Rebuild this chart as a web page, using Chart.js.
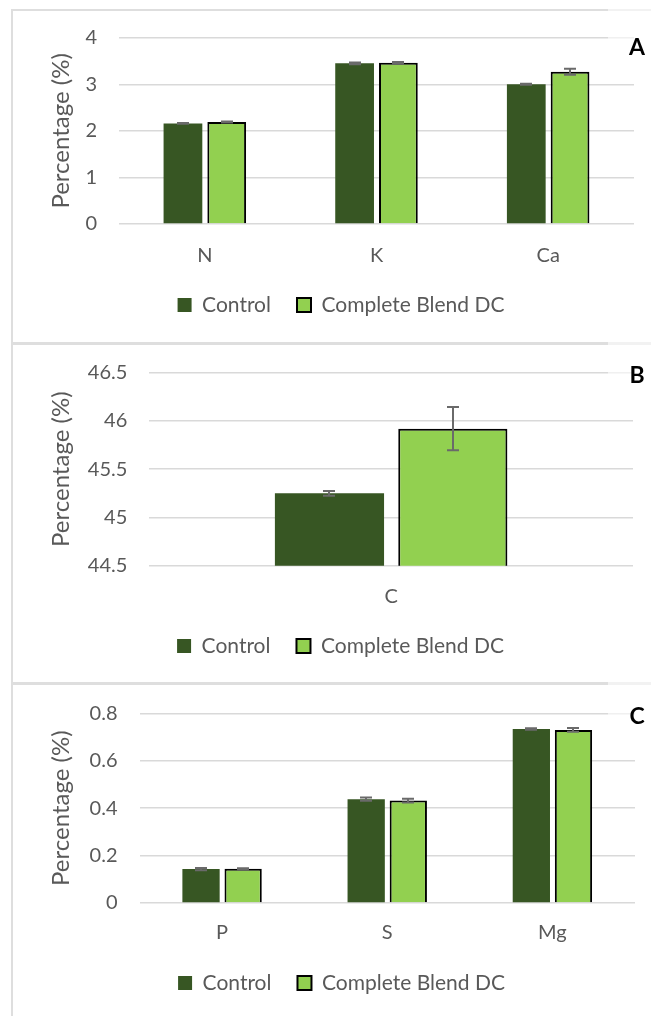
<!DOCTYPE html>
<html>
<head>
<meta charset="utf-8">
<script src="https://cdn.jsdelivr.net/npm/chart.js@4.4.1/dist/chart.umd.min.js"></script>
<style>
  html, body { margin: 0; padding: 0; background: #fff; }
  body { width: 651px; height: 1016px; overflow: hidden; position: relative; }
  .frame { position: absolute; left: 11px; width: 660px; border: 2px solid #dedede; box-sizing: border-box; }
  canvas { position: absolute; }
  .veil { position: absolute; left: 608px; width: 43px; background: rgba(255,255,255,0.6); }
  .tag { position: absolute; font: bold 23px Lato, sans-serif; color: #000; line-height: 1; transform: translate(-50%, -50%); }
</style>
</head>
<body>
<div class="frame" style="top:9px;height:336px"></div>
<div class="frame" style="top:342px;height:343px"></div>
<div class="frame" style="top:682px;height:400px"></div>

<canvas id="chartA" width="603" height="340" style="left:48px;top:3px"></canvas>
<canvas id="chartB" width="603" height="346" style="left:48px;top:337px"></canvas>
<canvas id="chartC" width="603" height="344" style="left:48px;top:677px"></canvas>

<div class="veil" style="top:8px;height:56px"></div>
<div class="veil" style="top:341px;height:54px"></div>
<div class="veil" style="top:681px;height:54px"></div>
<div class="tag" style="left:637px;top:46px">A</div>
<div class="tag" style="left:637px;top:374px">B</div>
<div class="tag" style="left:637px;top:715px">C</div>

<script>
// Series names shared by all three panels
const seriesNames = ['Control', 'Complete Blend DC'];

// Panel A: N, K, Ca
const nutrientsA = ['N', 'K', 'Ca'];
const controlA = [2.16, 3.45, 3.00];
const blendA = [2.19, 3.46, 3.27];
const controlErrA = [0.01, 0.02, 0.01];
const blendErrA = [0.01, 0.02, 0.065];
const yTicksA = [0, 1, 2, 3, 4];

// Panel B: C
const nutrientsB = ['C'];
const controlB = [45.25];
const blendB = [45.92];
const controlErrB = [0.025];
const blendErrB = [0.224];
const yTicksB = [44.5, 45, 45.5, 46, 46.5];

// Panel C: P, S, Mg
const nutrientsC = ['P', 'S', 'Mg'];
const controlC = [0.143, 0.438, 0.734];
const blendC = [0.144, 0.432, 0.730];
const controlErrC = [0.005, 0.007, 0.003];
const blendErrC = [0.003, 0.008, 0.008];
const yTicksC = [0, 0.2, 0.4, 0.6, 0.8];

const textGray = '#595959';
const controlColor = '#375623';
const blendColor = '#92D050';
const fontFamily = 'Lato, "Open Sans", sans-serif';

// Vertical error bars with caps, placed on each bar through the y scale
const errorBars = {
  id: 'errorBars',
  afterDatasetsDraw(chart, args, opts) {
    const ctx = chart.ctx;
    const y = chart.scales.y;
    ctx.save();
    ctx.strokeStyle = opts.color;
    ctx.lineWidth = opts.width;
    chart.data.datasets.forEach((ds, di) => {
      const meta = chart.getDatasetMeta(di);
      meta.data.forEach((bar, i) => {
        const v = ds.data[i];
        const e = ds.errors[i];
        const yTop = y.getPixelForValue(v + e);
        const yBot = y.getPixelForValue(v - e);
        const x = Math.round(bar.x);
        const hw = opts.capWidth / 2;
        ctx.beginPath();
        ctx.moveTo(x, yTop); ctx.lineTo(x, yBot);
        ctx.moveTo(x - hw, yTop); ctx.lineTo(x + hw, yTop);
        ctx.moveTo(x - hw, yBot); ctx.lineTo(x + hw, yBot);
        ctx.stroke();
      });
    });
    ctx.restore();
  }
};

function buildPanel(id, p) {
  const ticks = p.yTicks;
  return new Chart(document.getElementById(id), {
    type: 'bar',
    data: {
      labels: p.labels,
      datasets: [
        {
          label: seriesNames[0],
          data: p.control,
          errors: p.controlErr,
          backgroundColor: controlColor,
          borderWidth: 0,
          categoryPercentage: 0.51,
          barPercentage: 0.885
        },
        {
          label: seriesNames[1],
          data: p.blend,
          errors: p.blendErr,
          backgroundColor: blendColor,
          borderColor: '#000000',
          borderWidth: 2,
          categoryPercentage: 0.51,
          barPercentage: 0.885
        }
      ]
    },
    options: {
      responsive: false,
      animation: false,
      devicePixelRatio: 1,
      layout: { padding: p.padding },
      plugins: {
        tooltip: { enabled: false },
        errorBars: { color: '#6a6a6a', width: 2, capWidth: 12 },
        legend: {
          position: 'bottom',
          labels: {
            boxWidth: 14,
            boxHeight: 14,
            padding: 26,
            color: textGray,
            font: { family: fontFamily, size: 21 }
          }
        }
      },
      scales: {
        x: {
          offset: true,
          grid: { display: false, drawTicks: false },
          border: { display: false },
          ticks: { color: textGray, padding: p.xPad, font: { family: fontFamily, size: 20 } },
          afterFit(scale) { scale.height = p.xHeight; }
        },
        y: {
          min: ticks[0],
          max: ticks[ticks.length - 1],
          grid: { color: '#d9d9d9', lineWidth: 1.5, drawTicks: false },
          border: { display: false },
          ticks: {
            stepSize: ticks[1] - ticks[0],
            color: textGray,
            padding: 22,
            font: { family: fontFamily, size: 20 },
            callback: (v) => String(Number(v.toFixed(3)))
          },
          title: {
            display: true,
            text: 'Percentage (%)',
            color: textGray,
            padding: { top: 0, bottom: 0 },
            font: { family: fontFamily, size: 24, lineHeight: 1.1 }
          },
          afterFit(scale) { scale.width = p.yWidth; }
        }
      }
    },
    plugins: [errorBars]
  });
}

buildPanel('chartA', {
  labels: nutrientsA, control: controlA, blend: blendA,
  controlErr: controlErrA, blendErr: blendErrA, yTicks: yTicksA,
  yWidth: 71, xHeight: 44.5, xPad: 20,
  padding: { left: 0, right: 17, top: 34.7, bottom: 17.5 }
});

buildPanel('chartB', {
  labels: nutrientsB, control: controlB, blend: blendB,
  controlErr: controlErrB, blendErr: blendErrB, yTicks: yTicksB,
  yWidth: 101.3, xHeight: 43.8, xPad: 18.5,
  padding: { left: 0, right: 18, top: 35.7, bottom: 16.5 }
});

buildPanel('chartC', {
  labels: nutrientsC, control: controlC, blend: blendC,
  controlErr: controlErrC, blendErr: blendErrC, yTicks: yTicksC,
  yWidth: 91.5, xHeight: 43.5, xPad: 18,
  padding: { left: 0, right: 16, top: 36.3, bottom: 17.5 }
});
</script>
</body>
</html>
